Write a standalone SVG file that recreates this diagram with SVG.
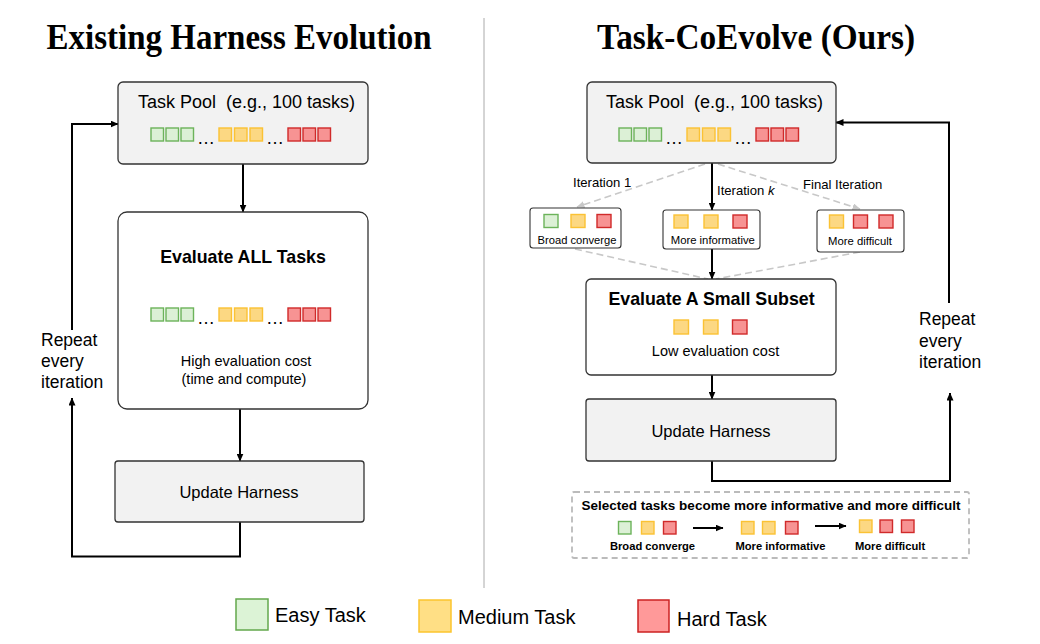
<svg xmlns="http://www.w3.org/2000/svg" width="1040" height="644" viewBox="0 0 1040 644">
<defs>
<style>
.sans{font-family:"Liberation Sans",Arial,sans-serif;fill:#000}
.title{font-family:"Liberation Serif","Times New Roman",serif;font-weight:bold;font-size:36px;fill:#000}
.gbox{fill:#f2f2f2;stroke:#333;stroke-width:1.3}
.wbox{fill:#fff;stroke:#333;stroke-width:1.3}
.sbox{fill:#fff;stroke:#333;stroke-width:1.1}
.e{fill:#dcf0d6;stroke:#6cb35a;stroke-width:1.4}
.m{fill:#fcd883;stroke:#fbc234;stroke-width:1.4}
.h{fill:#f79393;stroke:#d02a2a;stroke-width:1.4}
.conn{fill:none;stroke:#000;stroke-width:2}
.dash{fill:none;stroke:#c8c8c8;stroke-width:1.6;stroke-dasharray:7 4}
</style>
<marker id="ah" viewBox="0 0 8 7" markerWidth="8" markerHeight="7" refX="7.5" refY="3.5" orient="auto" markerUnits="userSpaceOnUse">
<path d="M0,0 L8,3.5 L0,7 z" fill="#000"/>
</marker>
<marker id="ahg" viewBox="0 0 8 7" markerWidth="8" markerHeight="7" refX="7.5" refY="3.5" orient="auto" markerUnits="userSpaceOnUse">
<path d="M0,0 L8,3.5 L0,7 z" fill="#c8c8c8"/>
</marker>
</defs>
<rect width="1040" height="644" fill="#fff"/>

<!-- titles and divider -->
<text class="title" x="239" y="49" text-anchor="middle" textLength="385" lengthAdjust="spacingAndGlyphs">Existing Harness Evolution</text>
<text class="title" x="756" y="49" text-anchor="middle" textLength="318" lengthAdjust="spacingAndGlyphs">Task-CoEvolve (Ours)</text>
<line x1="484" y1="18" x2="484" y2="588" stroke="#aaa" stroke-width="1"/>

<!-- connectors -->
<g id="connectors">
<line class="conn" x1="243" y1="164" x2="243" y2="212" marker-end="url(#ah)"/>
<line class="conn" x1="240" y1="409" x2="240" y2="461" marker-end="url(#ah)"/>
<polyline class="conn" points="240,522 240,556.5 72,556.5 72,398" marker-end="url(#ah)"/>
<polyline class="conn" points="72,330 72,124 118,124" marker-end="url(#ah)"/>

<line class="dash" x1="705" y1="164" x2="577" y2="207" marker-end="url(#ahg)"/>
<line class="dash" x1="718" y1="164" x2="860" y2="209" marker-end="url(#ahg)"/>
<line class="dash" x1="575" y1="249" x2="708" y2="279"/>
<line class="dash" x1="860" y1="252" x2="716" y2="279"/>
<line class="conn" x1="712" y1="163" x2="712" y2="210" marker-end="url(#ah)"/>
<line class="conn" x1="712" y1="249" x2="712" y2="279" marker-end="url(#ah)"/>
<line class="conn" x1="712" y1="375" x2="712" y2="399" marker-end="url(#ah)"/>
<polyline class="conn" points="712,461 712,481 950,481 950,393" marker-end="url(#ah)"/>
<polyline class="conn" points="949,303 949,122.5 836,122.5" marker-end="url(#ah)"/>
</g>

<!-- LEFT SIDE -->
<g id="left-task-pool">
<rect class="gbox" x="118" y="82" width="250" height="82" rx="5"/>
<text class="sans" x="138" y="108" font-size="18">Task Pool&#160; (e.g., 100 tasks)</text>
<rect class="e" x="151" y="128" width="12.5" height="13"/><rect class="e" x="166" y="128" width="12.5" height="13"/><rect class="e" x="181" y="128" width="12.5" height="13"/>
<text class="sans" x="206" y="144" font-size="18" text-anchor="middle">…</text>
<rect class="m" x="219" y="128" width="12.5" height="13"/><rect class="m" x="234.5" y="128" width="12.5" height="13"/><rect class="m" x="250" y="128" width="12.5" height="13"/>
<text class="sans" x="275" y="144" font-size="18" text-anchor="middle">…</text>
<rect class="h" x="288" y="128" width="12.5" height="13"/><rect class="h" x="303" y="128" width="12.5" height="13"/><rect class="h" x="318" y="128" width="12.5" height="13"/>
</g>

<g id="left-evaluate">
<rect class="wbox" x="118" y="212" width="250" height="197" rx="9"/>
<text class="sans" x="243" y="263" font-size="17.8" font-weight="bold" text-anchor="middle">Evaluate ALL Tasks</text>
<rect class="e" x="151" y="308" width="12.5" height="13"/><rect class="e" x="166" y="308" width="12.5" height="13"/><rect class="e" x="181" y="308" width="12.5" height="13"/>
<text class="sans" x="206" y="324" font-size="18" text-anchor="middle">…</text>
<rect class="m" x="219" y="308" width="12.5" height="13"/><rect class="m" x="234.5" y="308" width="12.5" height="13"/><rect class="m" x="250" y="308" width="12.5" height="13"/>
<text class="sans" x="275" y="324" font-size="18" text-anchor="middle">…</text>
<rect class="h" x="288" y="308" width="12.5" height="13"/><rect class="h" x="303" y="308" width="12.5" height="13"/><rect class="h" x="318" y="308" width="12.5" height="13"/>
<text class="sans" x="246" y="366" font-size="14.5" text-anchor="middle">High evaluation cost</text>
<text class="sans" x="244" y="384" font-size="14.5" text-anchor="middle">(time and compute)</text>
</g>

<g id="left-update">
<rect class="gbox" x="115" y="461" width="249" height="61" rx="3"/>
<text class="sans" x="239" y="497.5" font-size="16.5" text-anchor="middle">Update Harness</text>
</g>

<g id="left-repeat-label">
<text class="sans" x="41" y="345.5" font-size="17.5">Repeat</text>
<text class="sans" x="41" y="366.5" font-size="17.5">every</text>
<text class="sans" x="41" y="388" font-size="17.5">iteration</text>
</g>

<!-- RIGHT SIDE -->
<g id="right-task-pool">
<rect class="gbox" x="587" y="82" width="249" height="81" rx="5"/>
<text class="sans" x="606" y="107.5" font-size="18">Task Pool&#160; (e.g., 100 tasks)</text>
<rect class="e" x="619" y="128" width="12.5" height="13"/><rect class="e" x="634" y="128" width="12.5" height="13"/><rect class="e" x="649" y="128" width="12.5" height="13"/>
<text class="sans" x="674" y="144" font-size="18" text-anchor="middle">…</text>
<rect class="m" x="687" y="128" width="12.5" height="13"/><rect class="m" x="702.5" y="128" width="12.5" height="13"/><rect class="m" x="718" y="128" width="12.5" height="13"/>
<text class="sans" x="743" y="144" font-size="18" text-anchor="middle">…</text>
<rect class="h" x="756" y="128" width="12.5" height="13"/><rect class="h" x="771" y="128" width="12.5" height="13"/><rect class="h" x="786" y="128" width="12.5" height="13"/>
</g>

<g id="iteration-labels">
<text class="sans" x="573" y="187" font-size="13.1">Iteration 1</text>
<text class="sans" x="717" y="194.5" font-size="13.1">Iteration <tspan font-style="italic">k</tspan></text>
<text class="sans" x="803" y="188.5" font-size="13.1">Final Iteration</text>
</g>

<g id="subset-iter1">
<rect class="sbox" x="530" y="208" width="91" height="40" rx="3"/>
<rect class="e" x="544" y="214.5" width="14" height="13"/><rect class="m" x="571" y="214.5" width="14" height="13"/><rect class="h" x="597" y="214.5" width="14" height="13"/>
<text class="sans" x="577" y="244.3" font-size="11.2" text-anchor="middle">Broad converge</text>
</g>
<g id="subset-iterk">
<rect class="sbox" x="663" y="210" width="97" height="39" rx="3"/>
<rect class="m" x="674" y="215" width="14" height="13"/><rect class="m" x="704" y="215" width="14" height="13"/><rect class="h" x="733" y="215" width="14" height="13"/>
<text class="sans" x="712.8" y="244.3" font-size="11.3" text-anchor="middle">More informative</text>
</g>
<g id="subset-final">
<rect class="sbox" x="817" y="210" width="87" height="42" rx="3"/>
<rect class="m" x="829.5" y="215" width="14" height="13"/><rect class="h" x="853.5" y="215" width="14" height="13"/><rect class="h" x="879" y="215" width="14" height="13"/>
<text class="sans" x="860" y="245" font-size="11.3" text-anchor="middle">More difficult</text>
</g>

<g id="right-evaluate">
<rect class="wbox" x="586" y="279" width="250" height="96" rx="5"/>
<text class="sans" x="711.5" y="305" font-size="17.8" font-weight="bold" text-anchor="middle">Evaluate A Small Subset</text>
<rect class="m" x="674" y="320" width="14.5" height="14"/><rect class="m" x="703.5" y="320" width="14.5" height="14"/><rect class="h" x="732.5" y="320" width="14.5" height="14"/>
<text class="sans" x="715.5" y="356" font-size="14.5" text-anchor="middle">Low evaluation cost</text>
</g>

<g id="right-update">
<rect class="gbox" x="586" y="399" width="250" height="62" rx="3"/>
<text class="sans" x="711" y="436.7" font-size="16.5" text-anchor="middle">Update Harness</text>
</g>

<g id="right-repeat-label">
<text class="sans" x="919" y="325" font-size="17.5">Repeat</text>
<text class="sans" x="919" y="346.5" font-size="17.5">every</text>
<text class="sans" x="919" y="368" font-size="17.5">iteration</text>
</g>

<g id="progression-box">
<rect x="572" y="492" width="397" height="66" rx="2" fill="#fff" stroke="#bbb" stroke-width="1.8" stroke-dasharray="6 4"/>
<text class="sans" x="771" y="510" font-size="13.5" font-weight="bold" text-anchor="middle">Selected tasks become more informative and more difficult</text>
<rect class="e" x="618.5" y="521.5" width="12.5" height="12.5"/><rect class="m" x="641.5" y="521.5" width="12.5" height="12.5"/><rect class="h" x="663.5" y="521.5" width="12.5" height="12.5"/>
<line class="conn" x1="693" y1="528" x2="723" y2="528" marker-end="url(#ah)"/>
<rect class="m" x="741.5" y="521.5" width="12.5" height="12.5"/><rect class="m" x="762.5" y="521.5" width="12.5" height="12.5"/><rect class="h" x="785.5" y="521.5" width="12.5" height="12.5"/>
<line class="conn" x1="815" y1="526" x2="846" y2="526" marker-end="url(#ah)"/>
<rect class="m" x="859.5" y="520" width="12.5" height="12.5"/><rect class="h" x="880" y="520" width="12.5" height="12.5"/><rect class="h" x="901.5" y="520" width="12.5" height="12.5"/>
<text class="sans" x="652.5" y="550" font-size="11.2" font-weight="bold" text-anchor="middle">Broad converge</text>
<text class="sans" x="780.5" y="550" font-size="11.2" font-weight="bold" text-anchor="middle">More informative</text>
<text class="sans" x="890" y="550" font-size="11.2" font-weight="bold" text-anchor="middle">More difficult</text>
</g>

<!-- legend -->
<g id="legend-easy">
<rect x="236" y="599" width="32" height="31" fill="#dcf3d6" stroke="#63a84c" stroke-width="1.5"/>
<text class="sans" x="275" y="622" font-size="20">Easy Task</text>
</g>
<g id="legend-medium">
<rect x="419" y="600" width="32" height="32" fill="#ffdf85" stroke="#fcc52e" stroke-width="1.5"/>
<text class="sans" x="458" y="624" font-size="20">Medium Task</text>
</g>
<g id="legend-hard">
<rect x="638" y="600" width="31" height="32" fill="#ff9999" stroke="#cc2222" stroke-width="1.5"/>
<text class="sans" x="677" y="625.5" font-size="20">Hard Task</text>
</g>
</svg>
